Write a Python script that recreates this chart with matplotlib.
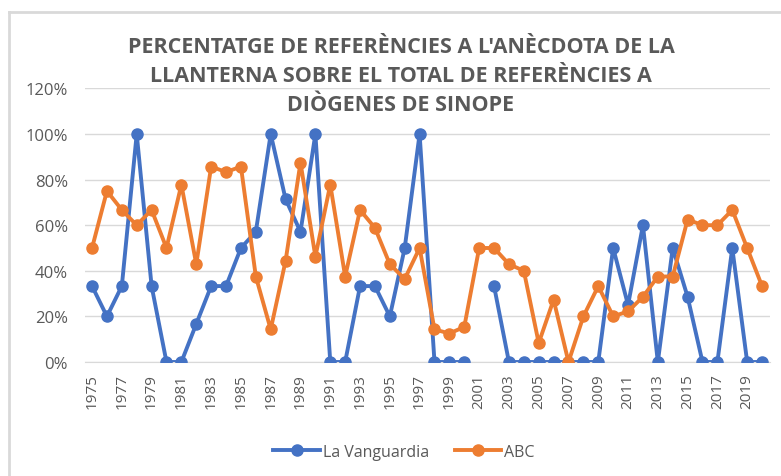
import numpy as np
import matplotlib
matplotlib.use("Agg")
import matplotlib.pyplot as plt
from matplotlib.lines import Line2D

years = list(range(1975, 2021))
la_vanguardia = [33.3, 20, 33.3, 100, 33.3, 0, 0, 16.7, 33.3, 33.3, 50, 57.1, 100, 71.4, 57.1, 100,
                 0, 0, 33.3, 33.3, 20, 50, 100, 0, 0, 0, np.nan, 33.3, 0, 0, 0, 0, 0, 0, 0, 50,
                 25, 60, 0, 50, 28.6, 0, 0, 50, 0, 0]
abc = [50, 75, 66.7, 60, 66.7, 50, 77.8, 42.9, 85.7, 83.3, 85.7, 37.5, 14.3, 44.4, 87.5, 46.2,
       77.8, 37.5, 66.7, 58.8, 42.9, 36.4, 50, 14.3, 12.5, 15.4, 50, 50, 42.9, 40, 8.3, 27.3,
       0, 20, 33.3, 20, 22.2, 28.6, 37.5, 37.5, 62.5, 60, 60, 66.7, 50, 33.3]
series_names = ["La Vanguardia", "ABC"]
colors = ["#4472C4", "#ED7D31"]
title = "PERCENTATGE DE REFERÈNCIES A L'ANÈCDOTA DE LA\nLLANTERNA SOBRE EL TOTAL DE REFERÈNCIES A\nDIÒGENES DE SINOPE"

plt.rcParams['font.family'] = ['Open Sans', 'DejaVu Sans']
text_color = "#595959"

fig = plt.figure(figsize=(7.81, 4.77), dpi=100)
ax = fig.add_axes([84.6/781, 1-363/477, (769.5-84.6)/781, (363-89.4)/477])

x = np.arange(len(years))
ax.plot(x, la_vanguardia, color=colors[0], lw=2.8, marker='o', ms=8, label=series_names[0], zorder=3)
ax.plot(x, abc, color=colors[1], lw=2.8, marker='o', ms=8, label=series_names[1], zorder=4)

ax.set_xlim(-0.5, len(years)-0.5)
ax.set_ylim(0, 120)
ax.set_yticks(range(0, 121, 20))
ax.set_yticklabels([f"{v}%" for v in range(0, 121, 20)], color=text_color, fontsize=12)
ax.set_xticks(x[::2])
ax.set_xticklabels([str(y) for y in years[::2]], rotation=90, color=text_color, fontsize=11)
ax.tick_params(axis='y', length=0, pad=12)
ax.tick_params(axis='x', length=0, pad=8)
ax.grid(axis='y', color='#D9D9D9', lw=1)
ax.set_axisbelow(True)
for s in ['top', 'right', 'left']:
    ax.spines[s].set_visible(False)
ax.spines['bottom'].set_color('#D9D9D9')
ax.spines['bottom'].set_zorder(0)

fig.text(401/781, 1-37/477, title, ha='center', va='top', fontsize=15.5, fontweight='bold',
         color=text_color, linespacing=1.5, transform=fig.transFigure)

leg = fig.legend(loc='center', bbox_to_anchor=(404/781, 1-453/477), ncol=2, frameon=False,
                 fontsize=11.5, handlelength=2.9, columnspacing=1.6, handletextpad=0.2)
for t in leg.get_texts():
    t.set_color(text_color)

border = '#D9D9D9'
fig.add_artist(Line2D([8.5/781, 8.5/781], [0, 1-13/477], transform=fig.transFigure, color=border, lw=2))
fig.add_artist(Line2D([8.5/781, 780/781], [1-13/477, 1-13/477], transform=fig.transFigure, color=border, lw=2))

fig.savefig("out.png", dpi=100)
